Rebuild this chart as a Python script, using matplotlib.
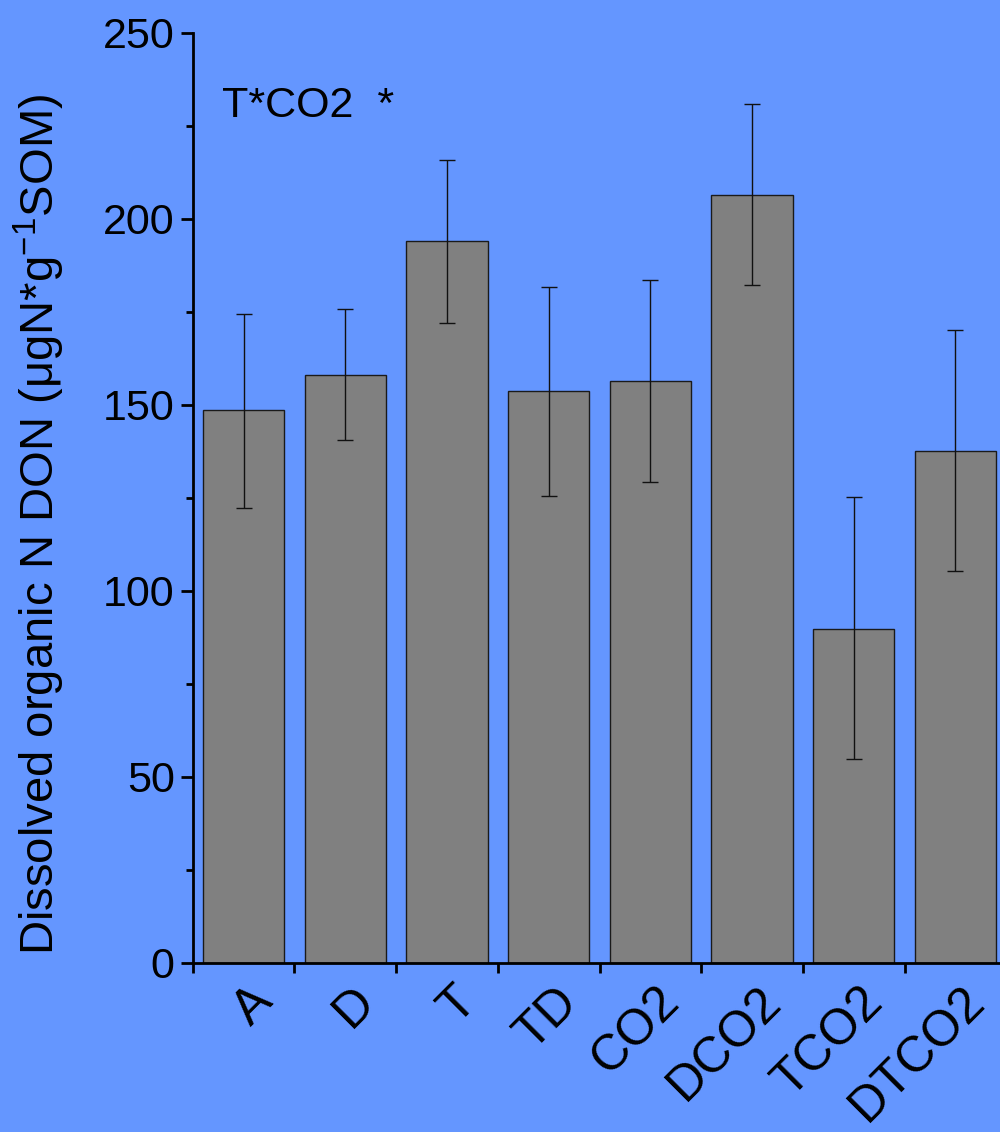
import numpy as np
import matplotlib.pyplot as plt
import matplotlib.transforms as mtransforms
from matplotlib.ticker import MultipleLocator, FixedLocator

plt.rcParams['font.family'] = ['Liberation Sans', 'DejaVu Sans']
plt.rcParams['mathtext.fontset'] = 'custom'
plt.rcParams['mathtext.rm'] = 'Liberation Sans'
plt.rcParams['mathtext.it'] = 'Liberation Sans:italic'

# treatments and DON values (ugN per g SOM)
treatments = ['A', 'D', 'T', 'TD', 'CO2', 'DCO2', 'TCO2', 'DTCO2']
don_mean = [148.7, 158.1, 194.1, 153.8, 156.5, 206.5, 89.8, 137.6]
don_upper = [174.5, 175.8, 215.9, 181.7, 183.6, 230.9, 125.3, 170.2]
don_lower = [122.3, 140.6, 172.0, 125.5, 129.3, 182.3, 54.8, 105.4]

bg = '#6496FF'
x = np.arange(1, len(treatments) + 1)
err = [np.array(don_mean) - np.array(don_lower), np.array(don_upper) - np.array(don_mean)]

fig = plt.figure(figsize=(10, 11.32), dpi=100)
fig.patch.set_facecolor(bg)
ax = fig.add_axes([0.1927, 0.1493, 0.8136, 0.8216])
ax.set_facecolor(bg)

ax.bar(x, don_mean, width=0.8, color='#808080', edgecolor='#1a1a1a', linewidth=1.0, zorder=2)
ax.errorbar(x, don_mean, yerr=err, fmt='none', ecolor='#111111', elinewidth=1.0,
            capsize=6, capthick=1.0, zorder=3)

ax.set_xlim(0.5, 8.5)
ax.set_ylim(0, 250)

ax.yaxis.set_major_locator(MultipleLocator(50))
ax.yaxis.set_minor_locator(MultipleLocator(25))
ax.xaxis.set_major_locator(FixedLocator(x))
ax.xaxis.set_minor_locator(FixedLocator(np.arange(0.5, 9, 1.0)))
ax.set_xticklabels(treatments, rotation=45, ha='right', va='top', rotation_mode='anchor')
ax.tick_params(axis='x', which='major', length=0, pad=11, labelsize=36)
ax.tick_params(axis='x', which='minor', length=7, width=2, direction='out')
ax.tick_params(axis='y', which='major', length=9, width=2, direction='out', labelsize=31, pad=4)
ax.tick_params(axis='y', which='minor', length=5, width=2, direction='out')

# nudge the rotated labels a little to the right
shift = mtransforms.ScaledTranslation(4 / 72, 0, fig.dpi_scale_trans)
for lab in ax.get_xticklabels():
    lab.set_transform(lab.get_transform() + shift)

for s in ('top', 'right'):
    ax.spines[s].set_visible(False)
for s in ('left', 'bottom'):
    ax.spines[s].set_linewidth(2)

ax.set_ylabel('Dissolved organic N DON (\u03bcgN*g$^{-1}$SOM)', fontsize=34)
ax.yaxis.set_label_coords(-0.1545, 0.472)
ax.text(0.036, 0.91, 'T*CO2  *', transform=ax.transAxes, fontsize=31, ha='left', va='baseline')

fig.savefig('out.png', dpi=100, facecolor=bg)
